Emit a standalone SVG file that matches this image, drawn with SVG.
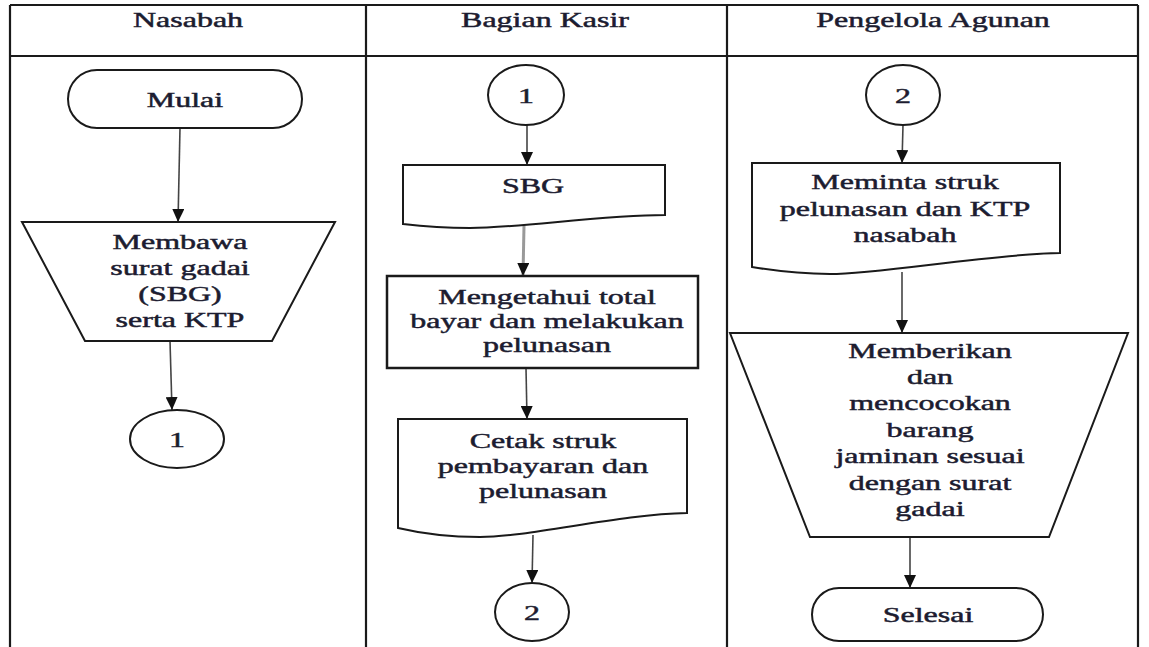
<svg xmlns="http://www.w3.org/2000/svg" width="1149" height="647" viewBox="0 0 1149 647">
<defs>
<style>
.grid{stroke:#1a1a1a;stroke-width:2.2;fill:none}
.shape{fill:#fff;stroke:#1a1a1a;stroke-width:2}
.t{font-family:"Liberation Serif","Times New Roman",serif;font-size:20px;fill:#1c1c30;stroke:#1c1c30;stroke-width:0.45;text-anchor:middle}
.c{stroke:#444;stroke-width:1.6;fill:none}
</style>
<marker id="ah" markerUnits="userSpaceOnUse" markerWidth="13" markerHeight="12" viewBox="0 0 13 12" refX="13" refY="6" orient="auto">
<path d="M0,0 L13,6 L0,12 Z" fill="#111"/>
</marker>
</defs>
<rect width="1149" height="647" fill="#fff"/>
<g id="table">
<path class="grid" d="M10,5 H1138 M10,56 H1138 M10,5 V647 M366,5 V647 M727,5 V647 M1138,5 V647"/>
<text class="t" transform="translate(188,27) scale(1.6,1)">Nasabah</text>
<text class="t" transform="translate(545,27) scale(1.6,1)">Bagian Kasir</text>
<text class="t" transform="translate(933,27) scale(1.6,1)">Pengelola Agunan</text>
</g>
<g id="connectors">
<path class="c" d="M180,128 L178,222" marker-end="url(#ah)"/>
<path class="c" d="M170,341 L172,410" marker-end="url(#ah)"/>
<path class="c" d="M527,125 L527,165" marker-end="url(#ah)"/>
<path class="c" d="M524,226 L523,276" marker-end="url(#ah)" style="stroke:#999;stroke-width:3"/>
<path class="c" d="M526,368 L527,419" marker-end="url(#ah)"/>
<path class="c" d="M533,535 L532,583" marker-end="url(#ah)"/>
<path class="c" d="M903,125 L902,163" marker-end="url(#ah)"/>
<path class="c" d="M902,272 L902,333" marker-end="url(#ah)"/>
<path class="c" d="M910,537 L910,588" marker-end="url(#ah)"/>
</g>
<g id="mulai">
<rect class="shape" x="68" y="70" width="234" height="58" rx="29" ry="29"/>
<text class="t" transform="translate(185,107) scale(1.6,1)">Mulai</text>
</g>
<g id="membawa">
<path class="shape" d="M22,222 L335,222 L272,341 L85,341 Z"/>
<text class="t" transform="translate(180,249) scale(1.6,1)">Membawa</text>
<text class="t" transform="translate(180,275) scale(1.6,1)">surat gadai</text>
<text class="t" transform="translate(180,301) scale(1.6,1)">(SBG)</text>
<text class="t" transform="translate(180,327) scale(1.6,1)">serta KTP</text>
</g>
<g id="conn1a">
<ellipse class="shape" cx="177" cy="439" rx="47" ry="29"/>
<text class="t" transform="translate(177,447) scale(1.6,1)">1</text>
</g>
<g id="conn1b">
<ellipse class="shape" cx="526" cy="95" rx="38" ry="30"/>
<text class="t" transform="translate(526,103) scale(1.6,1)">1</text>
</g>
<g id="sbg">
<path class="shape" d="M403,165 L665,165 L665,215 C600,215 520,228 470,228 C440,228 420,226 403,224 Z"/>
<text class="t" transform="translate(533,193) scale(1.6,1)">SBG</text>
</g>
<g id="mengetahui">
<rect class="shape" x="387" y="276" width="311" height="92" style="stroke-width:2.5"/>
<text class="t" transform="translate(547,304) scale(1.6,1)">Mengetahui total</text>
<text class="t" transform="translate(547,328) scale(1.6,1)">bayar dan melakukan</text>
<text class="t" transform="translate(547,352) scale(1.6,1)">pelunasan</text>
</g>
<g id="cetak">
<path class="shape" d="M398,419 L687,419 L687,513 C620,514 530,537 480,537 C440,537 415,532 398,528 Z"/>
<text class="t" transform="translate(543,448) scale(1.6,1)">Cetak struk</text>
<text class="t" transform="translate(543,473) scale(1.6,1)">pembayaran dan</text>
<text class="t" transform="translate(543,498) scale(1.6,1)">pelunasan</text>
</g>
<g id="conn2a">
<ellipse class="shape" cx="532" cy="612" rx="37" ry="29"/>
<text class="t" transform="translate(532,620) scale(1.6,1)">2</text>
</g>
<g id="conn2b">
<ellipse class="shape" cx="903" cy="95" rx="37" ry="30"/>
<text class="t" transform="translate(903,103) scale(1.6,1)">2</text>
</g>
<g id="meminta">
<path class="shape" d="M752,163 L1060,163 L1060,253 C990,254 880,274 830,274 C795,274 770,270 752,267 Z"/>
<text class="t" transform="translate(905,189) scale(1.6,1)">Meminta struk</text>
<text class="t" transform="translate(905,216) scale(1.6,1)">pelunasan dan KTP</text>
<text class="t" transform="translate(905,242) scale(1.6,1)">nasabah</text>
</g>
<g id="memberikan">
<path class="shape" d="M730,333 L1128,333 L1049,537 L810,537 Z"/>
<text class="t" transform="translate(930,358) scale(1.6,1)">Memberikan</text>
<text class="t" transform="translate(930,384) scale(1.6,1)">dan</text>
<text class="t" transform="translate(930,410) scale(1.6,1)">mencocokan</text>
<text class="t" transform="translate(930,437) scale(1.6,1)">barang</text>
<text class="t" transform="translate(930,463) scale(1.6,1)">jaminan sesuai</text>
<text class="t" transform="translate(930,490) scale(1.6,1)">dengan surat</text>
<text class="t" transform="translate(930,516) scale(1.6,1)">gadai</text>
</g>
<g id="selesai">
<rect class="shape" x="812" y="588" width="231" height="53" rx="27" ry="27"/>
<text class="t" transform="translate(928,622) scale(1.6,1)">Selesai</text>
</g>
</svg>
